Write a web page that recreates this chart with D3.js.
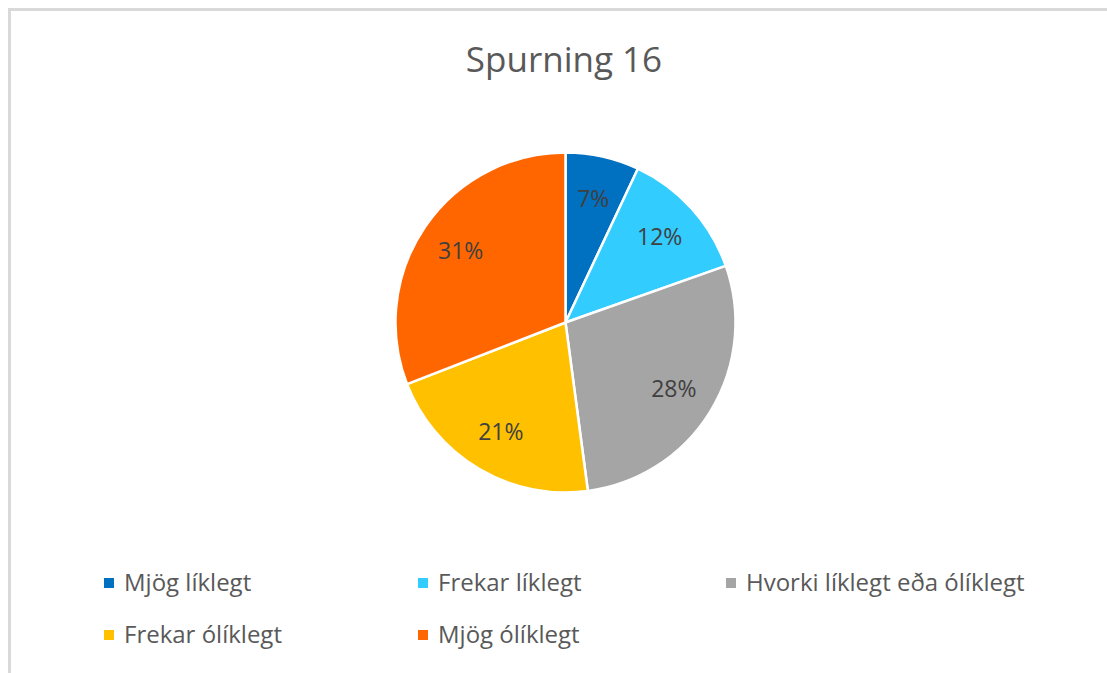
<!DOCTYPE html>
<html>
<head>
<meta charset="utf-8">
<script src="https://cdn.jsdelivr.net/npm/d3@7"></script>
<style>
  body { margin: 0; background: #fff; }
  text { font-family: "Open Sans", Lato, sans-serif; }
</style>
</head>
<body>
<script>
  var categories = ["Mjög líklegt", "Frekar líklegt", "Hvorki líklegt eða ólíklegt", "Frekar ólíklegt", "Mjög ólíklegt"];
  var values = [7.0, 12.6, 28.3, 21.2, 30.9];
  var labels = ["7%", "12%", "28%", "21%", "31%"];
  var colors = ["#0070c0", "#33ccff", "#a5a5a5", "#ffc000", "#ff6600"];

  var width = 1107;
  var height = 673;

  var svg = d3.select("body")
    .append("svg")
    .attr("width", width)
    .attr("height", height);

  // chart frame
  svg.append("rect")
    .attr("x", 9.5)
    .attr("y", 9.5)
    .attr("width", 1200)
    .attr("height", 800)
    .attr("fill", "none")
    .attr("stroke", "#d9d9d9")
    .attr("stroke-width", 3);

  svg.append("text")
    .attr("x", 564)
    .attr("y", 72)
    .attr("text-anchor", "middle")
    .attr("font-size", 35)
    .attr("fill", "#595959")
    .text("Spurning 16");

  var radius = 170;
  var g = svg.append("g").attr("transform", "translate(565.5,322.5)");

  var pie = d3.pie().sort(null).value(function(d) { return d; });
  var arc = d3.arc().innerRadius(0).outerRadius(radius);
  var labelArc = d3.arc().innerRadius(127).outerRadius(127);

  var arcs = pie(values);

  g.selectAll("path.slice")
    .data(arcs)
    .enter().append("path")
    .attr("class", "slice")
    .attr("d", arc)
    .attr("fill", function(d, i) { return colors[i]; })
    .attr("stroke", "#fff")
    .attr("stroke-width", 2.5)
    .attr("stroke-linejoin", "round");

  g.selectAll("text.lbl")
    .data(arcs)
    .enter().append("text")
    .attr("class", "lbl")
    .attr("transform", function(d) { return "translate(" + labelArc.centroid(d) + ")"; })
    .attr("text-anchor", "middle")
    .attr("dy", "0.35em")
    .attr("font-size", 23)
    .attr("fill", "#404040")
    .text(function(d, i) { return labels[i]; });

  // legend: 3 columns, 2 rows
  var colX = [104, 418, 726];
  var rowY = [583, 635];
  var legend = svg.selectAll("g.legend")
    .data(categories)
    .enter().append("g")
    .attr("class", "legend")
    .attr("transform", function(d, i) {
      return "translate(" + colX[i % 3] + "," + rowY[Math.floor(i / 3)] + ")";
    });

  legend.append("rect")
    .attr("x", 0)
    .attr("y", -5)
    .attr("width", 10)
    .attr("height", 10)
    .attr("fill", function(d, i) { return colors[i]; });

  legend.append("text")
    .attr("x", 20)
    .attr("y", 8)
    .attr("font-size", 24)
    .attr("fill", "#595959")
    .text(function(d) { return d; });
</script>
</body>
</html>
